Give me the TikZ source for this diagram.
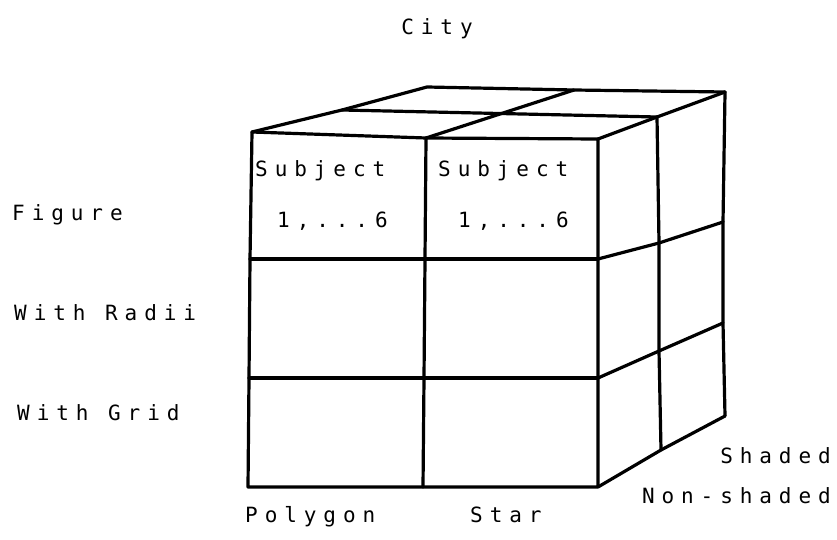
\documentclass[tikz,border=0pt]{standalone}
\usepackage{fontspec}
\usepackage{tikz}
\newfontfamily\plotfont[LetterSpace=33]{DejaVu Sans Mono}

\begin{document}
\begin{tikzpicture}[
  x=1pt, y=-1pt,
  edge/.style={line width=3.2pt, line cap=round, line join=round},
  lbl/.style={font=\plotfont\fontsize{21}{21}\selectfont, inner sep=0pt}]
\useasboundingbox (0,0) rectangle (837,540);
% front face corners
\coordinate (fa) at (252,132); \coordinate (fb) at (426,138); \coordinate (fc) at (598,139);
\coordinate (ga) at (250,259); \coordinate (gb) at (425,259); \coordinate (gc) at (598,259);
\coordinate (ha) at (249,378); \coordinate (hb) at (424,378); \coordinate (hc) at (598,378);
\coordinate (ka) at (248,487); \coordinate (kb) at (423,487); \coordinate (kc) at (598,487);
% top face
\coordinate (ma) at (342,110); \coordinate (mc) at (657,117);
\coordinate (ba) at (427,87); \coordinate (bb) at (574,90); \coordinate (bc) at (725,92);
% right face
\coordinate (mg) at (659,243); \coordinate (bg) at (723,222);
\coordinate (mh) at (659,351); \coordinate (bh) at (723,323);
\coordinate (mk) at (661,450); \coordinate (bk) at (725,416);
\draw[edge] (fa) -- (fb) -- (fc) -- (gc) -- (hc) -- (kc) -- (kb) -- (ka) -- (ha) -- (ga) -- cycle;
\draw[edge] (ga) -- (gb) -- (gc);
\draw[edge] (ha) -- (hb) -- (hc);
\draw[edge] (fb) -- (gb) -- (hb) -- (kb);
\draw[edge] (fa) -- (ma) -- (ba) -- (bb) -- (bc);
\draw[edge] (ma) -- (mc);
\draw[edge] (fb) -- (bb);
\draw[edge] (fc) -- (mc) -- (bc);
\draw[edge] (mc) -- (mg) -- (mh) -- (mk);
\draw[edge] (bc) -- (bg) -- (bh) -- (bk);
\draw[edge] (gc) -- (mg) -- (bg);
\draw[edge] (hc) -- (mh) -- (bh);
\draw[edge] (kc) -- (mk) -- (bk);
% labels
\node[lbl, anchor=base] (city) at (437,35) {City};
\node[lbl, anchor=base west] (fig) at (12,220) {Figure};
\node[lbl, anchor=base west] (radii) at (14,320) {With Radii};
\node[lbl, anchor=base west] (grid) at (17,420) {With Grid};
\node[lbl, anchor=base west] (subja) at (255,177) {Subject};
\node[lbl, anchor=base west] (numa) at (277,227) {1,...6};
\node[lbl, anchor=base west] (subjb) at (438,177) {Subject};
\node[lbl, anchor=base west] (numb) at (458,227) {1,...6};
\node[lbl, anchor=base west] (poly) at (245,522) {Polygon};
\node[lbl, anchor=base west] (star) at (470,522) {Star};
\node[lbl, anchor=base east] (shd) at (831,463) {Shaded};
\node[lbl, anchor=base east] (nshd) at (831,503) {Non-shaded};
\end{tikzpicture}
\end{document}
